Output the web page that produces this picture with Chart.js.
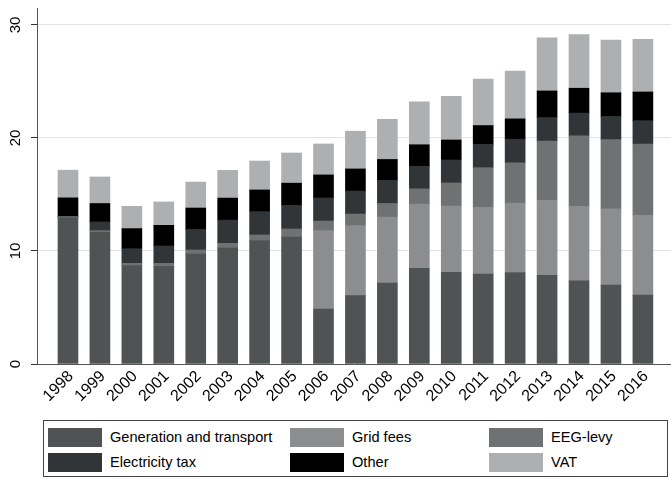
<!DOCTYPE html>
<html>
<head>
<meta charset="utf-8">
<script src="https://cdn.jsdelivr.net/npm/chart.js@4"></script>
<style>
    body { margin: 0; background: #fff; }
    #wrap { position: relative; width: 671px; height: 482px; font-family: "Liberation Sans", Arial, sans-serif; }
    #chartBox { position: absolute; left: 0; top: 0; width: 671px; height: 410px; }
    #legend {
        position: absolute; left: 43px; top: 420px; width: 625px; height: 57px;
        border: 1px solid #444; box-sizing: border-box;
    }
    .item { position: absolute; height: 19px; font-size: 14.6px; line-height: 19px; color: #000; }
    .item span.sw { position: absolute; left: 0; top: 0; width: 54px; height: 19px; }
    .item span.tx { position: absolute; left: 62px; top: 0; white-space: nowrap; }
</style>
</head>
<body>
<div id="wrap">
    <div id="chartBox"><canvas id="priceChart"></canvas></div>
    <div id="legend"></div>
</div>
<script>
// Household electricity price components, ct/kWh
const years = [1998, 1999, 2000, 2001, 2002, 2003, 2004, 2005, 2006, 2007,
               2008, 2009, 2010, 2011, 2012, 2013, 2014, 2015, 2016];
const generation  = [12.96, 11.68, 8.70, 8.65, 9.74, 10.27, 10.91, 11.26, 4.87, 6.05,
                     7.17, 8.47, 8.11, 7.96, 8.10, 7.85, 7.35, 6.99, 6.10];
const gridFees    = [0, 0, 0, 0, 0, 0, 0, 0, 6.93, 6.19,
                     5.83, 5.68, 5.87, 5.90, 6.14, 6.64, 6.60, 6.73, 7.06];
const eegLevy     = [0.08, 0.12, 0.20, 0.25, 0.35, 0.41, 0.51, 0.69, 0.85, 1.03,
                     1.20, 1.35, 2.04, 3.51, 3.56, 5.24, 6.23, 6.13, 6.31];
const electricityTax = [0, 0.77, 1.30, 1.54, 1.81, 2.05, 2.06, 2.09, 2.04, 2.03,
                        2.05, 2.00, 2.03, 2.07, 2.09, 2.07, 2.02, 2.05, 2.06];
const other       = [1.66, 1.63, 1.78, 1.83, 1.90, 1.95, 1.92, 1.96, 2.04, 1.96,
                     1.85, 1.90, 1.77, 1.66, 1.80, 2.36, 2.20, 2.10, 2.54];
const vat         = [2.45, 2.35, 1.97, 2.07, 2.30, 2.45, 2.56, 2.67, 2.74, 3.34,
                     3.55, 3.80, 3.87, 4.10, 4.22, 4.69, 4.74, 4.67, 4.66];
const yTicks = [0, 10, 20, 30];

const seriesNames  = ['Generation and transport', 'Grid fees', 'EEG-levy',
                      'Electricity tax', 'Other', 'VAT'];
const seriesValues = [generation, gridFees, eegLevy, electricityTax, other, vat];
const seriesColors = ['#4f5354', '#8c8d8e', '#6e7272', '#323537', '#000000', '#adafb0'];

const FONT = '"Liberation Sans", Arial, sans-serif';

// vertical y tick labels, centred on their ticks
const yLabelPlugin = {
    id: 'yLabels',
    afterDraw(chart) {
        const ctx = chart.ctx;
        const scale = chart.scales.y;
        ctx.save();
        ctx.fillStyle = '#000';
        ctx.font = '15px ' + FONT;
        ctx.textAlign = 'center';
        ctx.textBaseline = 'middle';
        yTicks.forEach(v => {
            const py = scale.getPixelForValue(v);
            ctx.save();
            ctx.translate(16, py);
            ctx.rotate(-Math.PI / 2);
            ctx.fillText(String(v), 0, 0);
            ctx.restore();
        });
        ctx.restore();
    }
};

const datasets = seriesNames.map((name, i) => ({
    label: name,
    data: years.map((yr, j) => ({ x: yr, y: seriesValues[i][j] })),
    backgroundColor: seriesColors[i],
    borderWidth: 0,
    barThickness: 20
}));

new Chart(document.getElementById('priceChart'), {
    type: 'bar',
    data: { datasets: datasets },
    options: {
        responsive: true,
        maintainAspectRatio: false,
        animation: false,
        layout: { padding: { top: 8, right: 0, left: 0, bottom: 0 } },
        plugins: {
            legend: { display: false },
            tooltip: { enabled: false }
        },
        scales: {
            x: {
                type: 'linear',
                stacked: true,
                offset: false,
                min: 1997.03,
                max: 2016.88,
                afterBuildTicks: s => { s.ticks = years.map(v => ({ value: v })); },
                afterFit: s => {
                    s.height = 46;
                    s.paddingLeft = 0;
                    s.paddingRight = 0;
                },
                grid: { display: false, drawTicks: false, offset: false },
                border: { color: '#555', width: 1 },
                ticks: {
                    autoSkip: false,
                    minRotation: 45,
                    maxRotation: 45,
                    padding: 3,
                    labelOffset: 3,
                    color: '#000',
                    font: { family: FONT, size: 16 },
                    callback: v => String(v)
                }
            },
            y: {
                stacked: true,
                min: 0,
                max: 31.5,
                afterBuildTicks: s => { s.ticks = yTicks.map(v => ({ value: v })); },
                afterFit: s => {
                    s.width = 37;
                    s.paddingTop = 0;
                    s.paddingBottom = 0;
                },
                grid: {
                    color: ctx => ctx.tick && ctx.tick.value === 0 ? 'rgba(0,0,0,0)' : '#e3e3e3',
                    tickColor: '#333',
                    tickLength: 6
                },
                border: { color: '#555', width: 1 },
                ticks: { display: false }
            }
        }
    },
    plugins: [yLabelPlugin]
});

// legend box: two rows of three entries
const legendEl = document.getElementById('legend');
const colLeft = [4, 246, 445];
const rowTop = [7, 32];
seriesNames.forEach((name, i) => {
    const item = document.createElement('div');
    item.className = 'item';
    item.style.left = colLeft[i % 3] + 'px';
    item.style.top = rowTop[Math.floor(i / 3)] + 'px';
    item.innerHTML = '<span class="sw" style="background:' + seriesColors[i] + '"></span>' +
                     '<span class="tx">' + name + '</span>';
    legendEl.appendChild(item);
});
</script>
</body>
</html>
